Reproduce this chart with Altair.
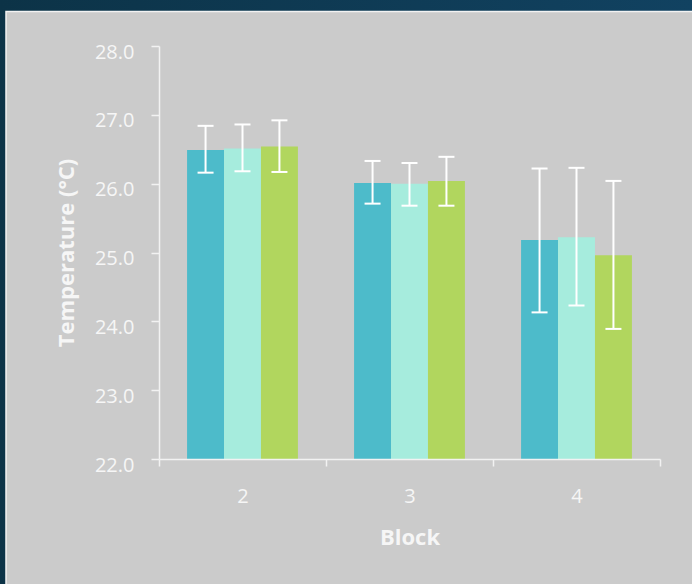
import altair as alt
import pandas as pd

# ---- data ----
blocks = ["2", "3", "4"]
series = ["Series 1", "Series 2", "Series 3"]
means = {
    "Series 1": [26.49, 26.01, 25.18],
    "Series 2": [26.51, 26.00, 25.22],
    "Series 3": [26.54, 26.04, 24.96],
}
upper = {
    "Series 1": [26.84, 26.33, 26.22],
    "Series 2": [26.86, 26.30, 26.23],
    "Series 3": [26.92, 26.39, 26.04],
}
lower = {
    "Series 1": [26.16, 25.71, 24.13],
    "Series 2": [26.18, 25.68, 24.23],
    "Series 3": [26.17, 25.68, 23.89],
}
colors = ["#4dbbca", "#a6ecdd", "#b1d65e"]
y_ticks = [22, 23, 24, 25, 26, 27, 28]
y_min = 22

rows = []
for s in series:
    for i, b in enumerate(blocks):
        rows.append({"Block": b, "Series": s, "Mean": means[s][i],
                     "Hi": upper[s][i], "Lo": lower[s][i], "Base": y_min})
df = pd.DataFrame(rows)

W, H = 501, 413
PL, PT = 159, 46

x_enc = alt.X("Block:N", sort=blocks,
              scale=alt.Scale(paddingInner=0, paddingOuter=0),
              axis=alt.Axis(title="Block", labelAngle=0, tickBand="extent",
                            tickSize=7, labelPadding=36, labelBaseline="alphabetic",
                            titleX=W / 2, titleY=85, titleBaseline="alphabetic",
                            zindex=1))
xo_enc = alt.XOffset("Series:N", sort=series,
                     scale=alt.Scale(paddingInner=0, paddingOuter=0.76))
y_scale = alt.Scale(domain=[22, 28], nice=False, zero=False)

base = alt.Chart(df)

bars = base.mark_bar(opacity=1, clip=True).encode(
    x=x_enc,
    xOffset=xo_enc,
    y=alt.Y("Mean:Q", scale=y_scale,
            axis=alt.Axis(title="Temperature (°C)", values=y_ticks, format=".1f",
                          tickSize=8, labelPadding=17, labelBaseline="alphabetic",
                          labelOffset=12, grid=False,
                          titleX=-85.5, titleY=H / 2, titleBaseline="alphabetic",
                          titleAngle=-90, zindex=1)),
    y2="Base:Q",
    color=alt.Color("Series:N", sort=series,
                    scale=alt.Scale(domain=series, range=colors), legend=None),
)

rules = base.mark_rule(color="white", strokeWidth=2).encode(
    x=alt.X("Block:N", sort=blocks),
    xOffset=alt.XOffset("Series:N", sort=series),
    y="Lo:Q",
    y2="Hi:Q",
)

caps_hi = base.mark_tick(color="white", size=16, thickness=2, opacity=1).encode(
    x=alt.X("Block:N", sort=blocks),
    xOffset=alt.XOffset("Series:N", sort=series),
    y="Hi:Q",
)
caps_lo = base.mark_tick(color="white", size=16, thickness=2, opacity=1).encode(
    x=alt.X("Block:N", sort=blocks),
    xOffset=alt.XOffset("Series:N", sort=series),
    y="Lo:Q",
)

one = pd.DataFrame({"k": [0]})
backdrop = alt.Chart(one).mark_rect(
    fill=alt.Gradient(gradient="linear", x1=0, y1=0, x2=1, y2=0,
                      stops=[alt.GradientStop(color="#0c3347", offset=0),
                             alt.GradientStop(color="#114261", offset=1)])
).encode(x=alt.value(-PL), x2=alt.value(692 - PL),
         y=alt.value(-PT), y2=alt.value(584 - PT))

panel = alt.Chart(one).mark_rect(fill="#cbcbcb", stroke="#f2f2f2", strokeWidth=1.5).encode(
    x=alt.value(6 - PL), x2=alt.value(700 - PL),
    y=alt.value(11.5 - PT), y2=alt.value(600 - PT))

chart = alt.layer(backdrop, panel, bars, rules, caps_hi, caps_lo).properties(
    width=W, height=H,
    autosize=alt.AutoSizeParams(type="none"),
    padding={"left": PL, "top": PT, "right": 692 - PL - W, "bottom": 584 - PT - H},
    background="#0f3b55",
).configure_view(stroke=None).configure_axis(
    domainColor="#f2f2f2", domainWidth=1.5, tickColor="#f2f2f2", tickWidth=1.5,
    labelColor="#f6f6f6", labelFont="Open Sans", labelFontSize=20,
    titleColor="#f6f6f6", titleFont="Open Sans", titleFontSize=22, titleFontWeight="bold",
)

chart.save("out.html", embed_options={"renderer": "svg", "actions": False})
